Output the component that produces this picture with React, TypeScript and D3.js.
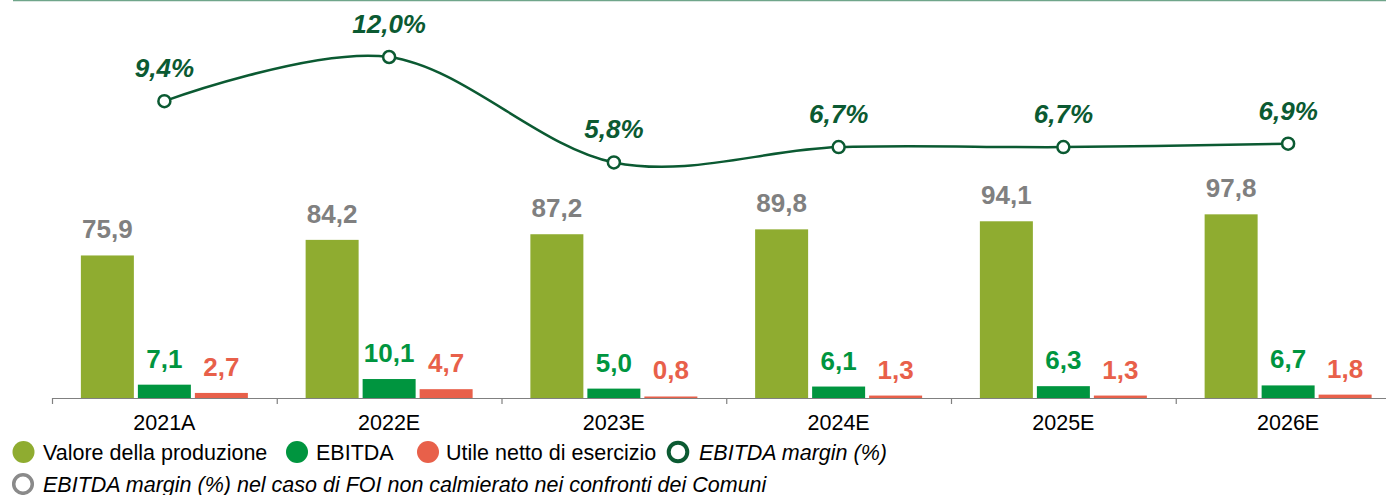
import * as d3 from 'd3';

const categories = ['2021A', '2022E', '2023E', '2024E', '2025E', '2026E'];
const valoreProduzione = [75.9, 84.2, 87.2, 89.8, 94.1, 97.8];
const ebitda = [7.1, 10.1, 5.0, 6.1, 6.3, 6.7];
const utileNetto = [2.7, 4.7, 0.8, 1.3, 1.3, 1.8];
const ebitdaMargin = [9.4, 12.0, 5.8, 6.7, 6.7, 6.9];

const seriesKeys = ['valore', 'ebitda', 'utile'];
const seriesValues = [valoreProduzione, ebitda, utileNetto];
const barColors = ['#8fac30', '#00953f', '#e8604a'];
const labelColors = ['#808080', '#00953f', '#e8604a'];
const lineColor = '#0b5a32';

const W = 1386;
const H = 495;
const FONT = "'Liberation Sans', Arial, sans-serif";

const fmt = (v: number) => d3.format('.1f')(v).replace('.', ',');

export default function App() {
  const axisY = 398;
  const x = d3.scaleBand().domain(categories).range([52, 52 + 6 * 224.75]).padding(0);
  const inner = d3.scaleBand().domain(seriesKeys).range([0, 167]).paddingInner(4 / 57);
  const groupOffset = (x.bandwidth() - 167) / 2;
  const y = d3.scaleLinear().domain([0, 100]).range([axisY, axisY - 187.8]);
  const yLine = d3.scaleLinear().domain([0, 12]).range([261, 57]);

  const cx = (c: string) => (x(c) as number) + x.bandwidth() / 2;

  const line = d3
    .line<number>()
    .x((_, i) => cx(categories[i]))
    .y((d) => yLine(d))
    .curve(d3.curveCardinal.tension(0));

  return (
    <svg
      width={W}
      height={H}
      style={{ position: 'absolute', left: 0, top: 0, display: 'block' }}
      fontFamily={FONT}
    >
      <rect width={W} height={H} fill="#fff" />
      <line x1={13} x2={W} y1={0.5} y2={0.5} stroke="#6fa58a" strokeWidth={1.5} />

      {/* bars */}
      {categories.map((c, i) => (
        <g key={c} transform={`translate(${(x(c) as number) + groupOffset},0)`}>
          {seriesKeys.map((k, s) => {
            const v = seriesValues[s][i];
            const bx = inner(k) as number;
            return (
              <g key={k}>
                <rect
                  x={bx}
                  y={y(v)}
                  width={inner.bandwidth()}
                  height={axisY - y(v)}
                  fill={barColors[s]}
                />
                <text
                  x={bx + inner.bandwidth() / 2}
                  y={y(v) - 17}
                  textAnchor="middle"
                  fontSize={26}
                  fontWeight="bold"
                  fill={labelColors[s]}
                >
                  {fmt(v)}
                </text>
              </g>
            );
          })}
        </g>
      ))}

      {/* axis */}
      <line x1={52} x2={W} y1={axisY + 0.5} y2={axisY + 0.5} stroke="#808080" strokeWidth={1.2} />
      {categories.map((c) => (
        <line
          key={c}
          x1={(x(c) as number) + 0.5}
          x2={(x(c) as number) + 0.5}
          y1={axisY}
          y2={axisY + 6}
          stroke="#808080"
          strokeWidth={1.2}
        />
      ))}
      {categories.map((c) => (
        <text key={c} x={cx(c)} y={430} textAnchor="middle" fontSize={21.5} fill="#000">
          {c}
        </text>
      ))}

      {/* EBITDA margin line */}
      <path d={line(ebitdaMargin) || ''} fill="none" stroke={lineColor} strokeWidth={2.5} />
      {ebitdaMargin.map((m, i) => (
        <g key={i}>
          <circle cx={cx(categories[i])} cy={yLine(m)} r={6} fill="#fff" stroke={lineColor} strokeWidth={2.5} />
          <text
            x={cx(categories[i])}
            y={yLine(m) - 24}
            textAnchor="middle"
            fontSize={26}
            fontWeight="bold"
            fontStyle="italic"
            fill={lineColor}
          >
            {fmt(m)}%
          </text>
        </g>
      ))}

      {/* legend */}
      <g fontSize={21.5} fill="#000">
        <circle cx={23.5} cy={452} r={11} fill={barColors[0]} />
        <text x={43} y={459.5}>Valore della produzione</text>
        <circle cx={297} cy={452} r={11} fill={barColors[1]} />
        <text x={316} y={459.5}>EBITDA</text>
        <circle cx={428} cy={452} r={11} fill={barColors[2]} />
        <text x={446} y={459.5}>Utile netto di esercizio</text>
        <circle cx={678} cy={452} r={9.3} fill="#fff" stroke={lineColor} strokeWidth={4} />
        <text x={699} y={459.5} fontStyle="italic">EBITDA margin (%)</text>
        <circle cx={23} cy={484} r={9.3} fill="#fff" stroke="#8a8a8a" strokeWidth={3.5} />
        <text x={43} y={491.5} fontStyle="italic">
          EBITDA margin (%) nel caso di FOI non calmierato nei confronti dei Comuni
        </text>
      </g>
    </svg>
  );
}
